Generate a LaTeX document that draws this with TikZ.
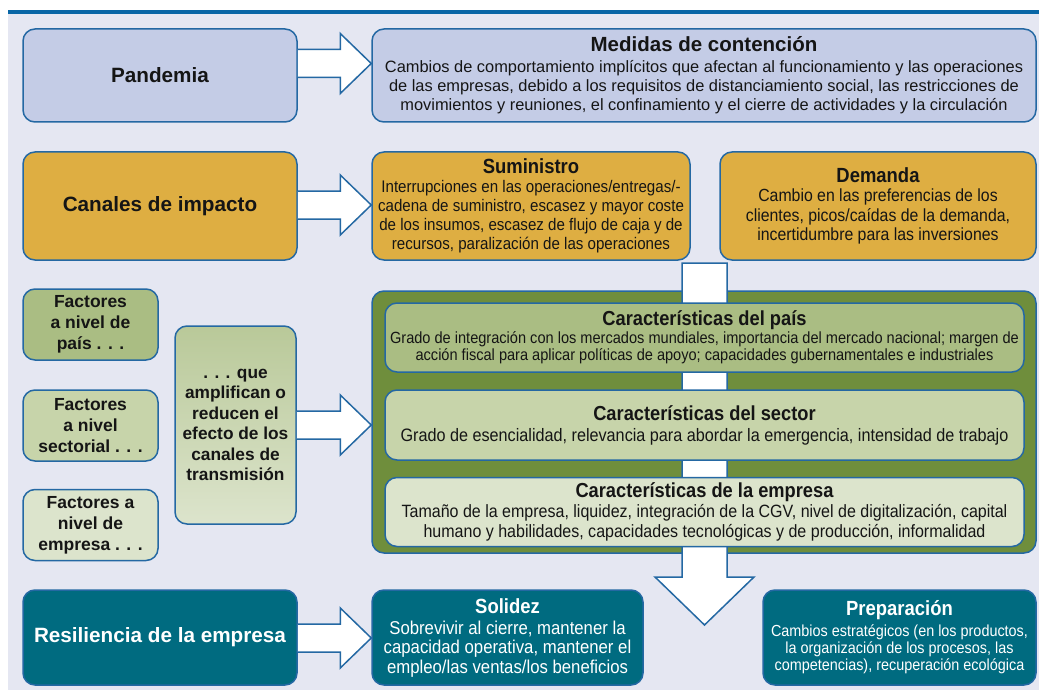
\documentclass[tikz,border=0pt]{standalone}
\usepackage{fontspec}
\setmainfont{Liberation Sans}
\newfontfamily\narrowfont[FakeStretch=0.9]{Liberation Sans}
\usetikzlibrary{calc}
\definecolor{bg}{HTML}{E5E7F2}
\definecolor{topblue}{HTML}{0866A6}
\definecolor{bordblue}{HTML}{2468A3}
\definecolor{lav}{HTML}{C4CCE6}
\definecolor{gold}{HTML}{DEAE42}
\definecolor{olive}{HTML}{6F8E3C}
\definecolor{gA}{HTML}{AABD83}
\definecolor{gB}{HTML}{C7D4AA}
\definecolor{gC}{HTML}{DCE4CC}
\definecolor{tealc}{HTML}{006B80}
\definecolor{txt}{HTML}{151515}
\newcommand\blockarr[3]{%
  \draw[blockarrow] ($(#1.east |- 0,#3)+(0,-14)$) -- ($(#2.west |- 0,#3)+(-31,-14)$) -- ++(0,-16)
    -- (#2.west |- 0,#3) -- ($(#2.west |- 0,#3)+(-31,30)$) -- ++(0,-16) -- ($(#1.east |- 0,#3)+(0,14)$);}
\newcommand\ttlfont{\fontsize{20.5}{21}\selectfont\bfseries}
\newcommand\inttl{\fontsize{20.3}{21}\selectfont\bfseries}
\begin{document}
\begin{tikzpicture}[x=1pt,y=-1pt,
  box/.style={draw=bordblue, line width=1.5pt, rounded corners=12pt, inner sep=0pt, align=center, text=txt},
  blockarrow/.style={draw=bordblue, line width=1.5pt, fill=white, line join=miter},
  bigtitle/.style={font=\fontsize{20.7}{24}\selectfont\bfseries},
  fact/.style={font=\fontsize{17.5}{21}\selectfont\bfseries}]
\useasboundingbox (0,0) rectangle (1039,690);
\fill[bg] (8,14) rectangle (1039,690);
\fill[topblue] (8,10) rectangle (1039,14);

% green container and vertical connector
\node[box, fill=olive, minimum width=664, minimum height=262] (grn) at (704,422) {};
\coordinate (bartop) at (704.5,263);
\coordinate (tip) at (704.5,625);
\draw[blockarrow] ($(bartop)+(-22.5,0)$) -- ($(bartop)+(22.5,0)$) -- ($(tip)+(22.5,-48)$) -- ($(tip)+(49.5,-48)$)
  -- (tip) -- ($(tip)+(-49.5,-48)$) -- ($(tip)+(-22.5,-48)$) -- cycle;

% inner boxes
\node[box, fill=gA, minimum width=639, minimum height=69, font=\narrowfont\fontsize{16.2}{17}\selectfont] (pais) at (704.5,337.5)
  {{\inttl Características del país}\\[1pt]
   Grado de integración con los mercados mundiales, importancia del mercado nacional; margen de\\
   acción fiscal para aplicar políticas de apoyo; capacidades gubernamentales e industriales};
\node[box, fill=gB, minimum width=639, minimum height=70, font=\narrowfont\fontsize{18}{20}\selectfont] (sect) at (704.5,425)
  {{\inttl Características del sector}\\[1pt]
   Grado de esencialidad, relevancia para abordar la emergencia, intensidad de trabajo};
\node[box, fill=gC, minimum width=639, minimum height=69, font=\narrowfont\fontsize{17.8}{20}\selectfont] (emp) at (704.5,512)
  {{\inttl Características de la empresa}\\[0pt]
   Tamaño de la empresa, liquidez, integración de la CGV, nivel de digitalización, capital\\
   humano y habilidades, capacidades tecnológicas y de producción, informalidad};

% top row
\node[box, fill=lav, minimum width=274, minimum height=93, bigtitle] (pan) at (160,75.5) {Pandemia};
\node[box, fill=lav, minimum width=664, minimum height=93, font=\fontsize{16.4}{19}\selectfont] (med) at (704,75.5)
  {{\ttlfont Medidas de contención}\\[2pt]
   Cambios de comportamiento implícitos que afectan al funcionamiento y las operaciones\\
   de las empresas, debido a los requisitos de distanciamiento social, las restricciones de\\
   movimientos y reuniones, el confinamiento y el cierre de actividades y la circulación};

% second row
\node[box, fill=gold, minimum width=274, minimum height=108, bigtitle] (can) at (160,206) {Canales de impacto};
\node[box, fill=gold, minimum width=318, minimum height=108, font=\narrowfont\fontsize{16.8}{19}\selectfont] (sum) at (531,206)
  {{\ttlfont Suministro}\\[0pt]
   Interrupciones en las operaciones/entregas/-\\
   cadena de suministro, escasez y mayor coste\\
   de los insumos, escasez de flujo de caja y de\\
   recursos, paralización de las operaciones};
\node[box, fill=gold, minimum width=316, minimum height=108, font=\narrowfont\fontsize{17.6}{19.5}\selectfont] (dem) at (878,206)
  {{\ttlfont Demanda}\\[0pt]
   Cambio en las preferencias de los\\
   clientes, picos/caídas de la demanda,\\
   incertidumbre para las inversiones};

% factors
\node[box, fill=gA, minimum width=135, minimum height=71, fact] (f1) at (90.5,324.5) {Factores\\a nivel de\\país . . .};
\node[box, fill=gB, minimum width=135, minimum height=71, fact] (f2) at (90.5,425.5) {Factores\\a nivel\\sectorial . . .};
\node[box, fill=gC, minimum width=135, minimum height=71, fact] (f3) at (90.5,525) {Factores a\\nivel de\\empresa . . .};
\node[box, top color=gA!70!gC, bottom color=gC, minimum width=121, minimum height=198, fact,
      font=\fontsize{17.3}{20.5}\selectfont\bfseries] (amp) at (235.5,425)
  {. . . que\\amplifican o\\reducen el\\efecto de los\\canales de\\transmisión};

% bottom row
\node[box, fill=tealc, text=white, minimum width=274, minimum height=95, bigtitle] (res) at (160,637.5) {Resiliencia de la empresa};
\node[box, fill=tealc, text=white, minimum width=271, minimum height=95, font=\narrowfont\fontsize{18.6}{19.5}\selectfont] (sol) at (507.5,637.5)
  {{\ttlfont Solidez}\\[1.5pt]
   Sobrevivir al cierre, mantener la\\
   capacidad operativa, mantener el\\
   empleo/las ventas/los beneficios};
\node[box, fill=tealc, text=white, minimum width=273, minimum height=95, font=\narrowfont\fontsize{16}{17}\selectfont] (prep) at (899.5,637.5)
  {{\ttlfont Preparación}\\[4pt]
   Cambios estratégicos (en los productos,\\
   la organización de los procesos, las\\
   competencias), recuperación ecológica};

% block arrows
\blockarr{pan}{med}{63.5}
\blockarr{can}{sum}{205}
\blockarr{amp}{grn}{425}
\blockarr{res}{sol}{638}
\end{tikzpicture}
\end{document}
